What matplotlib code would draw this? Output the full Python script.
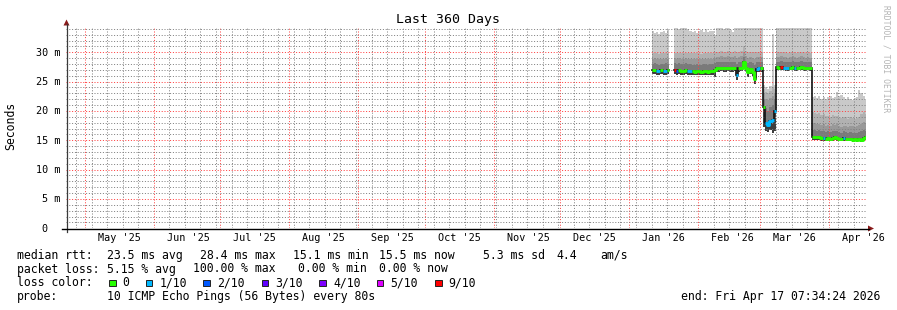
import numpy as np
import matplotlib
matplotlib.use("Agg")
import matplotlib.pyplot as plt
import matplotlib.dates as mdates
import matplotlib.transforms as mtrans
from matplotlib.ticker import MultipleLocator
from matplotlib.lines import Line2D
from matplotlib.patches import Rectangle, Polygon
from datetime import datetime, timedelta

nan = np.nan

# ---------------- data: one bin per day, starting at first_day ----------------
first_day = "2026-01-11"
graph_end = datetime(2026, 4, 17, 7, 34, 24)
span_days = 360

median_ms = [26.9, 26.9, 26.8, 26.8, 26.9, 26.8, 26.8, 26.9,
             nan, nan,
             26.9, 26.8, 26.9, 26.8, 26.8, 26.9, 26.8,
             26.8, 26.8, 26.7, 26.8, 26.8, 26.7, 26.8, 26.8, 26.7, 26.8, 26.8,
             26.9,
             27.3, 27.3, 27.4, 27.3, 27.3, 27.4, 27.3, 27.3, 27.4,
             26.1, 27.3, 27.4, 28.4, 27.4, 26.6, 27.2, 26.6, 25.4,
             27.2, 27.3, 27.3,
             20.6, 18.0, 17.6, 18.3, 18.5, 20.0,
             27.5, 27.4, 27.5, 27.4, 27.4, 27.3, 27.4, 27.5, 27.4, 27.3, 27.4, 27.5, 27.4, 27.3, 27.4, 27.3,
             15.6, 15.5, 15.6, 15.5, 15.4, 15.4, 15.3, 15.4, 15.3, 15.4, 15.5, 15.4, 15.3, 15.2, 15.4,
             15.3, 15.2, 15.2, 15.1, 15.2, 15.1, 15.2, 15.1, 15.4, 15.5]

lowest_ms = [26.3, 26.3, 26.2, 26.2, 26.3, 26.2, 26.2, 26.3,
             nan, nan,
             26.3, 26.2, 26.3, 26.2, 26.2, 26.3, 26.2,
             26.2, 26.2, 26.2, 26.2, 26.2, 26.1, 26.2, 26.2, 26.1, 26.2, 26.2,
             25.8,
             26.7, 26.7, 26.8, 26.7, 26.7, 26.8, 26.7, 26.7, 26.8,
             25.3, 26.7, 26.8, 27.3, 26.8, 25.8, 26.3, 26.0, 24.6,
             26.6, 26.7, 26.7,
             17.2, 16.5, 16.4, 16.8, 16.3, 16.6,
             26.9, 26.9, 26.9, 26.9, 26.8, 26.8, 26.9, 26.9, 26.8, 26.8, 26.9, 26.9, 26.8, 26.8, 26.9, 26.8,
             15.1, 15.0, 15.1, 15.0, 14.9, 14.9, 14.85, 14.9, 14.85, 14.9, 15.0, 14.9, 14.85, 14.8, 14.9,
             14.85, 14.8, 14.8, 14.7, 14.8, 14.7, 14.8, 14.7, 14.9, 15.0]

smoke1_ms = [28.0, 28.1, 28.0, 27.9, 28.0, 28.0, 28.1, 28.0,
             nan, nan,
             28.1, 28.0, 28.1, 28.0, 28.0, 28.1, 28.0,
             28.0, 27.9, 27.9, 28.0, 27.9, 27.9, 28.0, 28.0, 27.9, 28.0, 28.0,
             28.2,
             28.3, 28.3, 28.4, 28.3, 28.3, 28.4, 28.3, 28.3, 28.4,
             28.0, 28.3, 28.4, 29.2, 28.4, 28.1, 28.3, 28.2, 27.8,
             28.3, 28.3, 28.3,
             22.0, 20.5, 20.0, 20.6, 21.0, 22.0,
             28.4, 28.4, 28.5, 28.4, 28.4, 28.3, 28.4, 28.5, 28.4, 28.3, 28.4, 28.5, 28.4, 28.3, 28.4, 28.3,
             16.8, 16.7, 16.6, 16.7, 16.5, 16.6, 16.4, 16.5, 16.4, 16.6, 16.5, 16.6, 16.4, 16.3, 16.5,
             16.4, 16.3, 16.4, 16.3, 16.2, 16.3, 16.4, 16.5, 16.8, 16.6]

smoke2_ms = [28.9, 29.0, 28.9, 28.8, 28.9, 28.9, 29.0, 28.9,
             nan, nan,
             29.0, 28.9, 29.0, 28.9, 28.9, 29.0, 28.9,
             28.9, 28.8, 28.8, 28.9, 28.8, 28.8, 28.9, 28.9, 28.8, 28.9, 28.9,
             29.0,
             29.2, 29.2, 29.3, 29.2, 29.2, 29.3, 29.2, 29.2, 29.3,
             29.0, 29.2, 29.3, 30.0, 29.3, 29.0, 29.2, 29.1, 28.9,
             29.2, 29.2, 29.2,
             23.0, 22.0, 21.8, 22.2, 22.5, 23.0,
             29.2, 29.2, 29.3, 29.2, 29.2, 29.1, 29.2, 29.3, 29.2, 29.1, 29.2, 29.3, 29.2, 29.1, 29.2, 29.1,
             18.0, 17.9, 17.7, 17.8, 17.6, 17.7, 17.5, 17.6, 17.4, 17.7, 17.6, 17.7, 17.5, 17.3, 17.5,
             17.4, 17.3, 17.5, 17.4, 17.3, 17.4, 17.6, 17.8, 18.2, 17.9]

smoke3_ms = [29.8, 29.9, 29.8, 29.7, 29.8, 29.8, 29.9, 29.8,
             nan, nan,
             29.9, 29.8, 29.9, 29.8, 29.8, 29.9, 29.8,
             29.9, 29.8, 29.8, 29.9, 29.8, 29.7, 29.9, 29.8, 29.8, 29.9, 29.9,
             30.0,
             30.1, 30.1, 30.2, 30.1, 30.1, 30.2, 30.1, 30.1, 30.2,
             30.0, 30.1, 30.2, 31.0, 30.2, 30.0, 30.1, 30.1, 30.0,
             30.1, 30.1, 30.1,
             23.8, 23.3, 23.0, 23.4, 24.0, 23.8,
             30.0, 30.0, 30.1, 30.0, 30.0, 29.9, 30.0, 30.1, 30.0, 29.9, 30.0, 30.1, 30.0, 29.9, 30.0, 29.9,
             19.8, 19.6, 19.5, 19.6, 19.3, 19.4, 19.1, 19.2, 19.0, 19.3, 19.1, 19.2, 19.0, 18.8, 19.0,
             18.9, 18.7, 18.9, 18.8, 18.6, 18.8, 19.0, 19.4, 19.8, 19.5]

highest_ms = [33.6, 33.3, 33.5, 33.2, 33.4, 33.6, 33.3, 33.8,
              nan, nan,
              34.2, 34.2, 34.0, 34.2, 34.1, 34.2, 33.9,
              33.6, 33.4, 33.7, 33.3, 33.6, 33.8, 33.5, 33.9, 33.4, 33.7, 33.6,
              33.0,
              34.2, 34.2, 34.2, 34.0, 34.2, 34.2, 33.8, 33.5, 34.2,
              34.2, 34.2, 34.2, 34.2, 34.2, 34.2, 34.2, 34.2, 34.2,
              34.2, 34.2, 34.2,
              24.4, 24.0, 23.8, 24.2, 33.2, 24.5,
              34.2, 34.2, 34.2, 34.2, 34.2, 34.2, 34.2, 34.2, 34.2, 34.2, 34.2, 34.2, 34.2, 34.2, 34.2, 34.2,
              22.4, 22.6, 22.2, 22.5, 22.0, 22.3, 22.1, 22.4, 22.6, 22.2, 22.4, 23.3, 22.5, 22.8, 22.3,
              22.0, 22.3, 22.0, 21.9, 22.2, 22.4, 23.6, 23.0, 22.5, 21.8]

loss_tenths = [0, 0, 1, 1, 0, 1, 1, 0,
               0, 0,
               9, 2, 0, 0, 0, 0, 1,
               1, 0, 0, 0, 0, 0, 0, 0, 0, 0, 0,
               0,
               0, 0, 0, 0, 0, 0, 0, 0, 0,
               1, 0, 0, 0, 0, 0, 0, 0, 0,
               1, 1, 0,
               0, 1, 1, 1, 1, 1,
               0, 0, 9, 1, 1, 1, 0, 0, 1, 0, 0, 0, 0, 0, 0, 0,
               0, 0, 0, 0, 0, 1, 0, 0, 0, 0, 0, 0, 0, 0, 1,
               0, 0, 0, 0, 0, 0, 0, 0, 0, 0]

loss_levels = [0, 1, 2, 3, 4, 5, 9]
loss_labels = ["0", "1/10", "2/10", "3/10", "4/10", "5/10", "9/10"]
loss_colors = ["#26ff00", "#00b8ff", "#0059ff", "#5e00ff", "#7e00ff", "#dd00ff", "#ff0000"]

month_labels = ["May '25", "Jun '25", "Jul '25", "Aug '25", "Sep '25", "Oct '25",
                "Nov '25", "Dec '25", "Jan '26", "Feb '26", "Mar '26", "Apr '26"]
month_label_dates = ["2025-05-16T12", "2025-06-16T12", "2025-07-16T12", "2025-08-16T12",
                     "2025-09-16T12", "2025-10-16T12", "2025-11-16T12", "2025-12-16T12",
                     "2026-01-16T12", "2026-02-16T12", "2026-03-16T12", "2026-04-16T12"]
y_ticks = [0, 5, 10, 15, 20, 25, 30]

stats_rtt = ["23.5 ms avg", "28.4 ms max", "15.1 ms min", "15.5 ms now", "5.3 ms sd", "4.4", "am/s"]
stats_loss = ["5.15 % avg", "100.00 % max", "0.00 % min", "0.00 % now"]
probe_text = "10 ICMP Echo Pings (56 Bytes) every 80s"
end_text = "end: Fri Apr 17 07:34:24 2026"

for arr in (lowest_ms, smoke1_ms, smoke2_ms, smoke3_ms, highest_ms, loss_tenths):
    assert len(arr) == len(median_ms)

# ---------------- figure ----------------
W, H = 897, 310
MONO = "DejaVu Sans Mono"
plt.rcParams["font.family"] = MONO
fig = plt.figure(figsize=(W / 100, H / 100), dpi=100)
fig.patch.set_facecolor("white")

X0, X1 = 65.6, 865.6     # plot area in pixels
YB, YT = 228.3, 28.3
PX_PER_MS = 5.867
ax = fig.add_axes([X0 / W, 1 - YB / H, (X1 - X0) / W, (YB - YT) / H])
ax.set_facecolor("white")
t_end = mdates.date2num(graph_end)
t_start = mdates.date2num(graph_end - timedelta(days=span_days))
ax.set_xlim(t_start, t_end)
ax.set_ylim(0, (YB - YT) / PX_PER_MS)
for s in ax.spines.values():
    s.set_visible(False)

n = len(median_ms)
edges = mdates.date2num(np.datetime64(first_day) + np.arange(n + 1).astype("timedelta64[D]"))
edges[-1] = min(edges[-1], t_end)


def stairs(v):
    v = np.asarray(v, float)
    xs = np.column_stack([edges[:-1], edges[1:]]).ravel()
    return xs, np.repeat(v, 2)


# smoke layers
layers = [(lowest_ms, median_ms, "#3e3e3e"),
          (median_ms, smoke1_ms, "#7a7a7a"),
          (smoke1_ms, smoke2_ms, "#999999"),
          (smoke2_ms, smoke3_ms, "#b1b1b1"),
          (smoke3_ms, highest_ms, "#c9c9c9")]
for lo, hi, col in layers:
    xs, ylo = stairs(lo)
    _, yhi = stairs(hi)
    ax.fill_between(xs, ylo, yhi, color=col, lw=0, antialiased=False, zorder=1)

# median: dark base line, then loss-coloured segments
xs, ym = stairs(median_ms)
ax.plot(xs, ym, color="#111111", lw=1.2, zorder=2, solid_joinstyle="miter")


def loss_color(l):
    idx = 0
    for k, lev in enumerate(loss_levels):
        if l >= lev:
            idx = k
    return loss_colors[idx]


runs = []
prev = None
for i in range(n):
    m = median_ms[i]
    if np.isnan(m):
        prev = None
        continue
    c = loss_color(loss_tenths[i])
    if prev is not None and prev[0] == c and abs(m - prev[1]) < 1.5:
        runs[-1][1].extend([(edges[i], m), (edges[i + 1], m)])
    else:
        runs.append((c, [(edges[i], m), (edges[i + 1], m)]))
    prev = (c, m)
for c, pts in runs:
    px_, py_ = zip(*pts)
    ax.plot(px_, py_, color=c, lw=2.1, zorder=2.2, solid_capstyle="butt")

# grid
ax.xaxis.set_major_locator(mdates.MonthLocator())
ax.xaxis.set_minor_locator(mdates.WeekdayLocator(byweekday=mdates.SU))
ax.yaxis.set_major_locator(MultipleLocator(5))
ax.yaxis.set_minor_locator(MultipleLocator(1))
ax.set_axisbelow("line")
ax.grid(which="minor", color=(0.5, 0.5, 0.5, 0.22), lw=0.72, linestyle=(0, (1, 1.8)))
ax.grid(which="major", color=(1.0, 0.25, 0.25, 0.38), lw=0.72, linestyle=(0, (1, 1.8)))
ax.tick_params(which="both", length=0, labelbottom=False, labelleft=False)


def P(x, y):
    return (x / W, 1 - y / H)


# axes lines and arrows
axis_col = "#3a3a3a"
fig.add_artist(Line2D(*zip(P(66.5, 231.5), P(66.5, 24)), transform=fig.transFigure, color=axis_col, lw=0.9))
fig.add_artist(Line2D(*zip(P(62, 228.5), P(869, 228.5)), transform=fig.transFigure, color="black", lw=1.0))
fig.add_artist(Polygon([P(63.5, 25.5), P(69.5, 25.5), P(66.5, 19.5)], closed=True,
                       transform=fig.transFigure, color="#8a1a1a", lw=0))
fig.add_artist(Polygon([P(868, 225.5), P(868, 231.5), P(874, 228.5)], closed=True,
                       transform=fig.transFigure, color="#8a1a1a", lw=0))

# y tick labels
for v in y_ticks:
    yp = YB - v * PX_PER_MS
    if v == 0:
        fig.text(*P(47.5, yp + 3.4), "0", ha="right", va="baseline", fontsize=7.3)
    else:
        fig.text(*P(60.5, yp + 3.4), f"{v} m", ha="right", va="baseline", fontsize=7.3)

# x month labels
blend = mtrans.blended_transform_factory(ax.transData, fig.transFigure)
for lab, d in zip(month_labels, month_label_dates):
    ax.text(mdates.date2num(np.datetime64(d)), 1 - 241 / H, lab, transform=blend,
            ha="center", va="baseline", fontsize=7.3, clip_on=False)

# title, unit, watermark
fig.text(*P(448, 23), "Last 360 Days", ha="center", va="baseline", fontsize=9.5)
fig.text(*P(11, 126), "Seconds", rotation=90, ha="center", va="center", fontsize=8.3)
fig.text(*P(886, 59), "RRDTOOL / TOBI OETIKER", rotation=270, ha="center", va="center",
         fontsize=5.8, color="#b4b4b4")

# legend
FS = 8.3
fig.text(*P(16.5, 259), "median rtt:", ha="left", va="baseline", fontsize=FS)
for s, x in zip(stats_rtt, [107.3, 200, 293.3, 379.3, 483, 556.7, 600.7]):
    fig.text(*P(x, 259), s, ha="left", va="baseline", fontsize=FS)
fig.text(*P(16.5, 272.5), "packet loss:", ha="left", va="baseline", fontsize=FS)
for s, x in zip(stats_loss, [107.3, 193.3, 298.3, 379.3]):
    fig.text(*P(x, 272.5), s, ha="left", va="baseline", fontsize=FS)
fig.text(*P(16.5, 286.3), "loss color:", ha="left", va="baseline", fontsize=FS)
box_x = [109, 145.7, 203.3, 261.7, 319.3, 376.7, 435]
for bx, lab, col in zip(box_x, loss_labels, loss_colors):
    x0, y0 = P(bx, 286)
    fig.add_artist(Rectangle((x0, y0), 6.5 / W, 6.5 / H, transform=fig.transFigure,
                             facecolor=col, edgecolor="#222222", lw=0.7))
    fig.text(*P(bx + 13.7, 286.3), lab, ha="left", va="baseline", fontsize=FS)
fig.text(*P(16.5, 300), "probe:", ha="left", va="baseline", fontsize=FS)
fig.text(*P(107.3, 300), probe_text, ha="left", va="baseline", fontsize=FS)
fig.text(*P(880.5, 300), end_text, ha="right", va="baseline", fontsize=FS)

fig.savefig("out.png", dpi=100, facecolor="white")
